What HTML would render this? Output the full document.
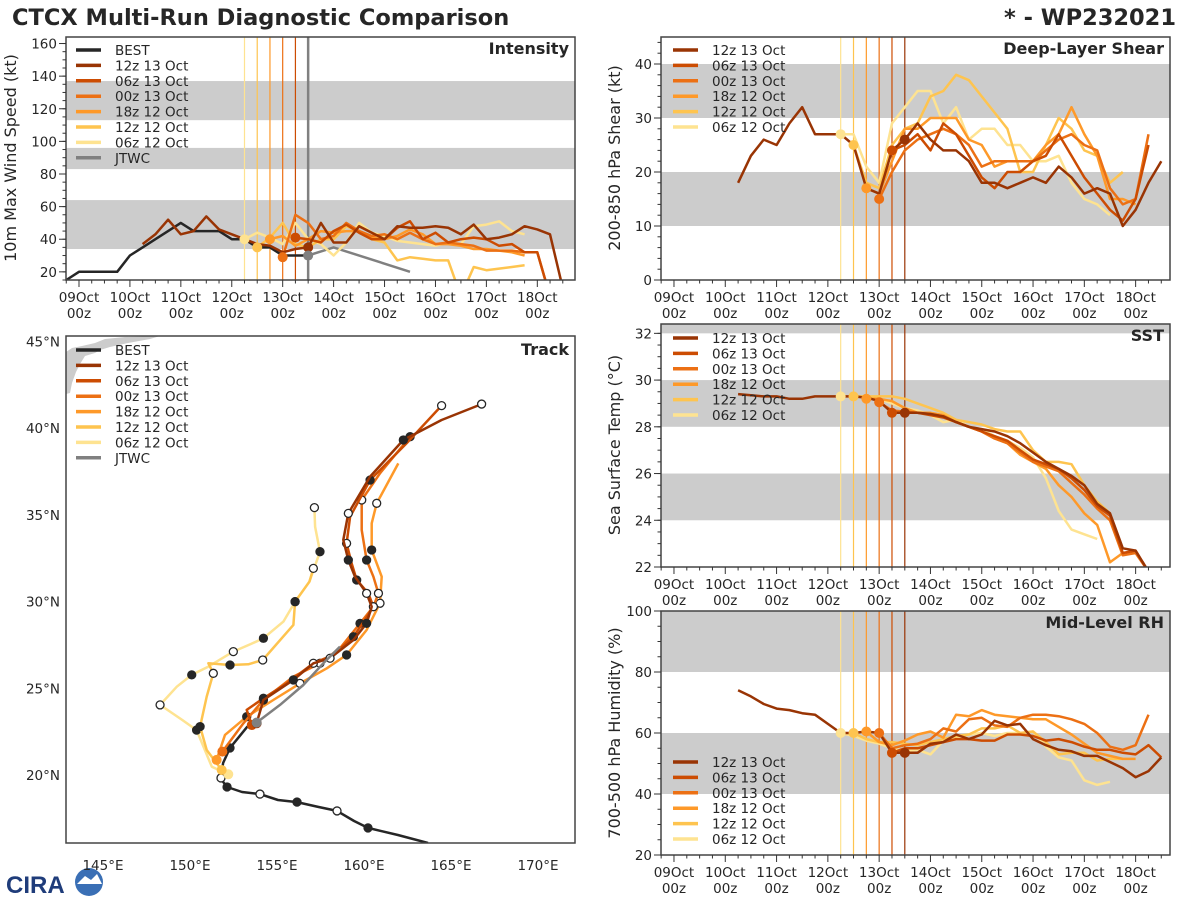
<!DOCTYPE html>
<html><head><meta charset="utf-8"><style>
html,body{margin:0;padding:0;background:#fff;}
svg{display:block;font-family:"DejaVu Sans","Liberation Sans",sans-serif;}
</style></head><body>
<svg id="chart" width="1200" height="900" viewBox="0 0 1200 900" xmlns="http://www.w3.org/2000/svg">
<text x="12" y="25" font-size="22.5" font-weight="bold" fill="#262626">CTCX Multi-Run Diagnostic Comparison</text>
<text x="1176" y="25" font-size="22.5" font-weight="bold" fill="#262626" text-anchor="end">* - WP232021</text>
<g>
<text x="6" y="893" font-size="24" font-weight="bold" fill="#1f3c7a" font-family="Liberation Sans, sans-serif">CIRA</text>
<circle cx="89" cy="882" r="14" fill="#3a6fb5"/>
<path d="M77 884 L85 876 L91 880 L97 874 L102 884 Z" fill="#fff"/>
</g>
</svg>
<script>
const NS='http://www.w3.org/2000/svg';
const svg=document.getElementById('chart');
function mk(tag,attrs,parent){const e=document.createElementNS(NS,tag);for(const k in attrs)e.setAttribute(k,attrs[k]);(parent||svg).appendChild(e);return e;}

// ---------- data ----------
const runNames=['12z 13 Oct','06z 13 Oct','00z 13 Oct','18z 12 Oct','12z 12 Oct','06z 12 Oct'];
const runInit=[4.5,4.25,4.0,3.75,3.5,3.25];
const runColors=['#993404','#cc4c02','#ec7014','#fe9929','#fec44f','#fee391'];
const xTickDays=[0,1,2,3,4,5,6,7,8,9];
const xTickLabels=['09Oct','10Oct','11Oct','12Oct','13Oct','14Oct','15Oct','16Oct','17Oct','18Oct'];

// Intensity (kt), 6-hourly, start times
const bestIntT=[-0.25,0,0.25,0.5,0.75,1,1.25,1.5,1.75,2,2.25,2.5,2.75,3,3.25,3.5,3.75,4,4.25,4.5];
const bestIntV=[15,20,20,20,20,30,35,40,45,50,45,45,45,40,40,35,35,30,30,30];
const jtwcIntT=[4.5,5.0,6.5];
const jtwcIntV=[30,35,20];
const intStart=[1.25,4.25,4.0,3.75,3.5,3.25];
const int12z13=[37,43,52,43,45,54,46,43,40,37,36,32,34,35,50,38,38,48,44,40,48,47,47,48,47,43,49,40,41,43,48,46,43,10];
const int06z13=[41,40,38,45,49,44,40,40,47,51,40,44,38,40,41,40,36,37,32,32,5];
const int00z13=[29,55,50,40,42,50,45,42,43,40,44,40,37,38,37,36,33,33,33,32,32,5];
const int18z12=[40,42,36,40,45,44,45,45,41,40,42,46,43,37,37,36,34,34,33,32,30];
const int12z12=[35,41,50,37,35,40,40,48,45,40,38,27,29,28,27,27,5,23,21,22,23,24];
const int06z12=[40,44,41,37,50,40,37,30,38,50,44,42,39,38,37,36,38,37,48,49,51,45,43];
const intSeries=[int12z13,int06z13,int00z13,int18z12,int12z12,int06z12];

// Shear (kt)
const shrStart=[1.25,4.25,4.0,3.75,3.5,3.25];
const shr12z13=[18,23,26,25,29,32,27,27,27,25,17,16,24,26,29,26,24,24,22,18,18,17,18,19,18,21,19,16,17,16,10,13,18,22];
const shr06z13=[24,25,27,24,29,27,23,19,17,20,20,22,23,27,23,19,16,13,11,15,25];
const shr00z13=[15,20,24,26,27,28,27,25,21,22,22,22,22,24,26,27,25,24,17,14,15,27];
const shr18z12=[17,16,22,28,28,30,30,30,26,25,21,22,22,22,25,27,32,27,23,15,15,14];
const shr12z12=[25,18,17,25,28,29,34,35,38,37,34,31,28,20,20,25,30,28,24,23,18,20];
const shr06z12=[27,27,21,18,29,32,35,35,29,32,26,28,28,25,25,22,22,23,18,15,14,12];
const shrSeries=[shr12z13,shr06z13,shr00z13,shr18z12,shr12z12,shr06z12];

// SST (C)
const sstStart=[1.25,4.25,4.0,3.75,3.5,3.25];
const sst12z13=[29.4,29.35,29.3,29.3,29.2,29.2,29.3,29.3,29.3,29.3,29.25,29.1,28.6,28.6,28.6,28.55,28.45,28.2,28.0,27.9,27.8,27.6,27.3,26.9,26.5,26.2,25.9,25.5,24.7,24.3,22.8,22.7,21.8];
const sst06z13=[28.6,28.6,28.6,28.5,28.4,28.2,28.0,27.8,27.6,27.4,27.0,26.6,26.4,26.2,25.8,25.3,24.6,24.2,22.6,22.7,21.8];
const sst00z13=[29.05,28.7,28.65,28.6,28.55,28.45,28.2,28.0,27.8,27.5,27.3,26.9,26.5,26.3,26.1,25.6,25.1,24.5,24.0,22.5,22.6,21.8];
const sst18z12=[29.2,29.2,29.1,28.8,28.6,28.6,28.5,28.2,28.0,27.8,27.5,27.3,26.8,26.5,26.2,25.5,25.0,24.3,23.8,22.2,22.6];
const sst12z12=[29.3,29.3,29.3,29.3,29.2,29.0,28.8,28.6,28.3,28.2,28.1,27.9,27.8,27.8,27.0,26.5,26.5,26.4,25.5,24.8,24.3];
const sst06z12=[29.3,29.3,29.3,29.2,29.0,28.8,28.7,28.5,28.2,28.3,28.0,27.9,27.6,27.4,27.1,26.7,25.8,24.4,23.6,23.4,23.2];
const sstSeries=[sst12z13,sst06z13,sst00z13,sst18z12,sst12z12,sst06z12];

// Mid-level RH (%)
const rhStart=[1.25,4.25,4.0,3.75,3.5,3.25];
const rh12z13=[74,72,69.5,68,67.5,66.5,66,63,60,60,60.5,60,53.5,53.5,53.5,56.5,57,59.5,58,59.5,64,62.5,63,58,56,54.5,54,52.5,52.5,50.5,48.5,45.5,47.5,52];
const rh06z13=[53.5,55,55,56,57,58,58,57.5,57.5,59.5,59.5,59,57.5,58,57,55.5,54.5,54.5,53.5,53,56,52];
const rh00z13=[60,55,56,56.5,58,61.5,60.5,64.5,65,62.5,62,65,66,66,65.5,64.5,63,60,55.5,54.5,56,66];
const rh18z12=[60.5,57,56,57.5,59.5,60.5,58.5,66,65.5,67.5,66,65.5,65,64.5,64.5,62,59.5,56.5,53.5,52.5,51.5,51.5];
const rh12z12=[60,58,57,57,56.5,56,57,58,59,59.5,61.5,61.5,62.5,60,60.5,57,53,53.5,53.5,51,51.5,51.5];
const rh06z12=[60,59,57.5,56.5,55,54,54.5,53,57.5,58.5,59.5,60,59,60,60,60.5,55.5,52,51,44.5,43,44];
const rhSeries=[rh12z13,rh06z13,rh00z13,rh18z12,rh12z12,rh06z12];

// Track (lon E, lat N)
const bestLon=[163.68,161.95,160.23,159.43,158.45,157.36,156.15,155.06,154.02,152.99,152.13,151.9,151.78,151.9,152.3,153.28,153.85];
const bestLat=[16.08,16.54,16.95,17.35,17.93,18.16,18.44,18.56,18.9,19.02,19.31,19.6,19.83,20.69,21.56,22.77,23.0];
const jtwcLon=[153.83,155.17,156.51,157.66,158.62];
const jtwcLat=[23.02,24.04,25.19,26.44,27.4];
const trk12z13Lon=[153.83,154.22,155.94,157.09,158.05,159.39,160.15,160.44,160.15,159.48,159.1,158.81,159.1,160.35,162.26,164.46,166.76];
const trk12z13Lat=[22.98,24.32,25.48,26.44,26.73,27.78,28.74,29.7,30.47,31.43,32.39,33.55,35.08,37.2,39.31,40.46,41.38];
const trk06z13Lon=[153.55,153.26,154.22,155.56,157.09,158.24,159.39,160.06,160.54,160.25,159.58,159.29,159.0,159.2,160.35,162.45,164.46];
const trk06z13Lat=[22.88,23.75,24.42,25.28,26.44,26.92,27.97,28.94,29.7,30.47,31.24,32.2,33.35,34.89,37.0,39.12,41.29];
const trk00z13Lon=[151.86,153.07,154.22,155.94,157.47,158.62,159.77,160.54,160.83,160.54,160.15,159.87,159.87,160.92,162.65];
const trk00z13Lat=[21.35,22.98,24.32,25.67,26.44,27.3,28.74,29.7,30.47,31.43,32.39,34.12,35.85,37.39,39.5];
const trk18z12Lon=[151.53,152.01,153.26,154.79,156.32,157.86,159.0,160.15,160.92,161.02,160.44,160.44,160.73,161.97];
const trk18z12Lat=[20.87,22.31,23.36,24.32,25.28,26.15,26.92,28.36,29.9,31.43,32.97,34.51,35.66,37.96];
const trk12z12Lon=[151.82,150.96,150.58,150.96,151.34,151.06,152.3,153.35,154.18,155.94,156.04,156.86,157.09];
const trk12z12Lat=[20.29,21.44,22.79,24.52,25.86,26.44,26.34,26.38,26.63,28.65,29.99,31.14,31.91];
const trk06z12Lon=[152.2,151.25,150.38,149.56,148.28,149.24,150.1,151.06,152.49,153.45,154.22,155.37,156.04,156.86,157.47,157.19,157.15];
const trk06z12Lat=[20.04,20.48,22.59,23.17,24.04,25.09,25.77,26.25,27.11,27.53,27.88,28.84,29.99,31.14,32.87,34.31,35.41];
const trkLon=[trk12z13Lon,trk06z13Lon,trk00z13Lon,trk18z12Lon,trk12z12Lon,trk06z12Lon];
const trkLat=[trk12z13Lat,trk06z13Lat,trk00z13Lat,trk18z12Lat,trk12z12Lat,trk06z12Lat];
const latTicks=[20,25,30,35,40,45];
const lonTicks=[145,150,155,160,165,170];

// ---------- helpers ----------
function panel(name,x0,x1,y0,y1,tmin,tmax,vmin,vmax){
  const p={x0,x1,y0,y1,tmin,tmax,vmin,vmax,name};
  p.sx=t=>x0+(t-tmin)/(tmax-tmin)*(x1-x0);
  p.sy=v=>y1-(v-vmin)/(vmax-vmin)*(y1-y0);
  const cid='clip-'+name;
  const cp=mk('clipPath',{id:cid});mk('rect',{x:x0,y:y0,width:x1-x0,height:y1-y0},cp);
  p.g=mk('g',{'clip-path':'url(#'+cid+')'});
  
  
  return p;
}
function bands(p,ranges){
  ranges.forEach(r=>{const a=p.sy(Math.min(r[1],p.vmax)),b=p.sy(Math.max(r[0],p.vmin));
    const e=mk('rect',{x:p.x0,y:a,width:p.x1-p.x0,height:b-a,fill:'#cccccc'},p.g);
    
    });
}
function frame(p){
  const e=mk('rect',{x:p.x0,y:p.y0,width:p.x1-p.x0,height:p.y1-p.y0,fill:'none',stroke:'#444',"stroke-width":1.5});
  
  
}
function timeAxis(p){
  const ax=mk('g',{});
  
  
  for(let t=Math.ceil(p.tmin*4)/4;t<=p.tmax;t+=0.25){
    const x=p.sx(t);const major=Math.abs(t-Math.round(t))<1e-6;
    mk('line',{x1:x,x2:x,y1:p.y1,y2:p.y1+(major?7:3.5),stroke:'#333','stroke-width':1},ax);
  }
  xTickDays.forEach((d,i)=>{const x=p.sx(d);
    const a=mk('text',{x:x,y:p.y1+22,'font-size':13.5,'text-anchor':'middle',fill:'#262626'},ax);a.textContent=xTickLabels[i];
    const b=mk('text',{x:x,y:p.y1+38,'font-size':13.5,'text-anchor':'middle',fill:'#262626'},ax);b.textContent='00z';});
}
function valAxis(p,ticks,minorStep,label,cy,off){
  const ax=mk('g',{});
  
  
  for(let v=Math.ceil(p.vmin/minorStep)*minorStep;v<=p.vmax+1e-6;v+=minorStep){const y=p.sy(v);
    mk('line',{x1:p.x0,x2:p.x0-3.5,y1:y,y2:y,stroke:'#333'},ax);}
  ticks.forEach(v=>{const y=p.sy(v);mk('line',{x1:p.x0,x2:p.x0-7,y1:y,y2:y,stroke:'#333'},ax);
    const t=mk('text',{x:p.x0-9,y:y+5,'font-size':13.5,'text-anchor':'end',fill:'#262626'},ax);t.textContent=v;});
  const lx=p.x0-off;
  const l=mk('text',{x:lx,y:cy,'font-size':16,'text-anchor':'middle',fill:'#262626',transform:'rotate(-90 '+lx+' '+cy+')'});
  l.textContent=label;
  
  
}
function title(p,txt){
  const t=mk('text',{x:p.x1-6,y:p.y0+17,'font-size':16,'font-weight':'bold','text-anchor':'end',fill:'#262626'});
  t.textContent=txt;
  
  
}
function initLines(p){
  runInit.forEach((t,i)=>{const x=p.sx(t);
    const e=mk('line',{x1:x,x2:x,y1:p.y0,y2:p.y1,stroke:runColors[i],'stroke-width':1.2},p.g);
    
    });
}
function series(p,ts,vs,color,w,nm){
  const pts=vs.map((v,i)=>p.sx(ts[i]).toFixed(1)+','+p.sy(v).toFixed(1)).join(' ');
  const e=mk('polyline',{points:pts,fill:'none',stroke:color,'stroke-width':w,'stroke-linejoin':'round'},p.g);
  
  
}
function runSeries(p,starts,data){
  for(let i=data.length-1;i>=0;i--){
    const ts=data[i].map((v,k)=>starts[i]+k*0.25);
    series(p,ts,data[i],runColors[i],2.5,'series-'+runNames[i].replace(/ /g,'-').toLowerCase());
  }
  for(let i=data.length-1;i>=0;i--){
    const k=Math.round((runInit[i]-starts[i])/0.25);
    const d=mk('circle',{cx:p.sx(runInit[i]),cy:p.sy(data[i][k]),r:5,fill:runColors[i]},p.g);
    
    
  }
}
function legend(x,y,entries,name){
  const g=mk('g',{});
  
  
  entries.forEach((en,i)=>{const yy=y+i*15.4;
    const it=mk('g',{},g);
    
    
    mk('line',{x1:x,x2:x+25,y1:yy,y2:yy,stroke:en[1],'stroke-width':3.5},it);
    const t=mk('text',{x:x+39,y:yy+5,'font-size':13.5,fill:'#262626'},it);t.textContent=en[0];});
}
const runEntries=runNames.map((n,i)=>[n,runColors[i]]);

// ---------- Intensity ----------
const pI=panel('intensity',66,575,37,280,-0.255,9.74,15,164);
bands(pI,[[34,64],[83,96],[113,137]]);
initLines(pI);
{const x=pI.sx(4.5);mk('line',{x1:x,x2:x,y1:pI.y0,y2:pI.y1,stroke:'#808080','stroke-width':2.5},pI.g);}
series(pI,bestIntT,bestIntV,'#262626',2.5,'series-best');
series(pI,jtwcIntT,jtwcIntV,'#808080',2.5,'series-jtwc');
runSeries(pI,intStart,intSeries);
{const d=mk('circle',{cx:pI.sx(jtwcIntT[0]),cy:pI.sy(jtwcIntV[0]),r:5,fill:'#808080'},pI.g);
 
 }
frame(pI);timeAxis(pI);valAxis(pI,[20,40,60,80,100,120,140,160],5,'10m Max Wind Speed (kt)',158,50);
title(pI,'Intensity');
legend(76,50,[['BEST','#262626']].concat(runEntries).concat([['JTWC','#808080']]),'intensity-legend');

// ---------- Shear ----------
const pS=panel('shear',661,1170,37,280,-0.253,9.67,0,45);
bands(pS,[[10,20],[30,40]]);
initLines(pS);runSeries(pS,shrStart,shrSeries);
frame(pS);timeAxis(pS);valAxis(pS,[0,10,20,30,40],2,'200-850 hPa Shear (kt)',158,41);
title(pS,'Deep-Layer Shear');legend(673,50,runEntries,'shear-legend');

// ---------- SST ----------
const pT=panel('sst',661,1170,324,567,-0.253,9.67,22,32.4);
bands(pT,[[24,26],[28,30],[32,34]]);
initLines(pT);runSeries(pT,sstStart,sstSeries);
frame(pT);timeAxis(pT);valAxis(pT,[22,24,26,28,30,32],0.5,'Sea Surface Temp (°C)',445,41);
title(pT,'SST');legend(673,338,runEntries,'sst-legend');

// ---------- RH ----------
const pR=panel('rh',661,1170,611,855,-0.253,9.67,20,100);
bands(pR,[[40,60],[80,100]]);
initLines(pR);runSeries(pR,rhStart,rhSeries);
frame(pR);timeAxis(pR);valAxis(pR,[20,40,60,80,100],5,'700-500 hPa Humidity (%)',733,41);
title(pR,'Mid-Level RH');legend(673,762,runEntries,'rh-legend');

// ---------- Track ----------
const pK={name:'track',x0:66,x1:575,y0:336,y1:843};
pK.sx=lon=>103+(lon-145)*17.4;
pK.sy=lat=>775-(lat-20)*17.35;
{const cp=mk('clipPath',{id:'clip-track'});mk('rect',{x:66,y:336,width:509,height:507},cp);
 pK.g=mk('g',{'clip-path':'url(#clip-track)'});
 
 }
{const land=mk('polygon',{points:'66,352 72,348 82,346 95,343 105,339 125,337 160,336 150,339 128,343 110,347 100,350 95,353 85,356 80,364 76,372 72,383 70,393 66,394',fill:'#cccccc'},pK.g);
 
 }
function track(lons,lats,color,nm,markers,startDot){
  const pts=lons.map((v,i)=>pK.sx(v).toFixed(1)+','+pK.sy(lats[i]).toFixed(1)).join(' ');
  const e=mk('polyline',{points:pts,fill:'none',stroke:color,'stroke-width':2.5,'stroke-linejoin':'round'},pK.g);
  
  
  if(startDot){const d=mk('circle',{cx:pK.sx(lons[0]),cy:pK.sy(lats[0]),r:5,fill:color},pK.g);
    
    }
  if(markers){let f=true;for(let i=2;i<lons.length;i+=2){
    const m=mk('circle',{cx:pK.sx(lons[i]),cy:pK.sy(lats[i]),r:4,fill:f?'#262626':'#fff',stroke:'#262626','stroke-width':1.3},pK.g);
    
    f=!f;}}
}
track(bestLon,bestLat,'#262626','track-best',true,false);
for(let i=5;i>=0;i--)track(trkLon[i],trkLat[i],runColors[i],'track-'+runNames[i].replace(/ /g,'-').toLowerCase(),true,true);
track(jtwcLon,jtwcLat,'#808080','track-jtwc',false,true);
{const e=mk('rect',{x:66,y:336,width:509,height:507,fill:'none',stroke:'#444','stroke-width':1.5});
 
 }
{const ax=mk('g',{});
 
 
 latTicks.forEach(v=>{const y=pK.sy(v);const t=mk('text',{x:60,y:y+5,'font-size':13.5,'text-anchor':'end',fill:'#262626'},ax);t.textContent=v+'°N';});
 const ax2=mk('g',{});
 
 
 lonTicks.forEach(v=>{const x=pK.sx(v);const t=mk('text',{x:x,y:870,'font-size':13.5,'text-anchor':'middle',fill:'#262626'},ax2);t.textContent=v+'°E';});}
{const t=mk('text',{x:569,y:355,'font-size':16,'font-weight':'bold','text-anchor':'end',fill:'#262626'});t.textContent='Track';
 
 }
legend(76,350,[['BEST','#262626']].concat(runEntries).concat([['JTWC','#808080']]),'track-legend');
</script>
</body></html>
